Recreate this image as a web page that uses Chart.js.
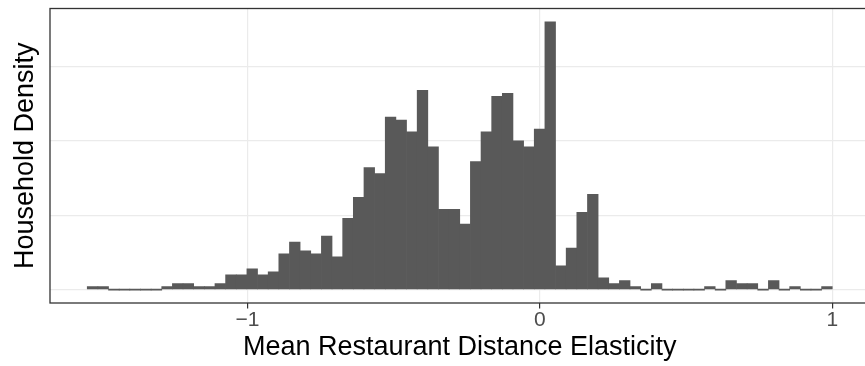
<!DOCTYPE html>
<html>
<head>
<meta charset="utf-8">
<title>Mean Restaurant Distance Elasticity</title>
<script src="https://cdn.jsdelivr.net/npm/chart.js@4"></script>
<style>
  html, body { margin: 0; padding: 0; background: #fff; overflow: hidden; }
  #myChart { display: block; }
</style>
</head>
<body>
<canvas id="myChart" width="872" height="366"></canvas>
<script>
// histogram bins: 70 equal-width bins starting at binStart
const binStart = -1.548;
const binWidth = 0.0364;
const householdsPerBin = [
  1, 1, 0, 0, 0, 0, 0, 1, 2, 2,
  1, 1, 2, 5, 5, 7, 5, 6, 12, 16,
  13, 12, 18, 11, 24, 31, 41, 39, 58, 57,
  53, 67, 48, 27, 27, 22, 43, 53, 65, 66,
  50, 48, 54, 90, 8, 14, 26, 32, 4, 2,
  3, 1, 0, 2, 0, 0, 0, 0, 1, 0,
  3, 2, 2, 0, 3, 0, 1, 0, 0, 1
];
const xTicks = [-1, 0, 1];
const yBreaks = [0, 25, 50, 75];

const titleFont = { family: '"Liberation Sans", Arial, sans-serif', size: 27 };
const tickFont = { family: '"Liberation Sans", Arial, sans-serif', size: 21, lineHeight: 1 };

// bars sit on bin centres
const points = householdsPerBin.map(function (n, i) {
  return { x: binStart + (i + 0.5) * binWidth, y: n };
});

// ggplot-style 5% padding around the data
const binEnd = binStart + householdsPerBin.length * binWidth;
const xPad = (binEnd - binStart) * 0.05;
const yMax = Math.max.apply(null, householdsPerBin);
const yPad = yMax * 0.05;

// theme_bw panel border, drawn over the bars
const panelBorder = {
  id: 'panelBorder',
  afterDraw: function (chart) {
    const a = chart.chartArea;
    const ctx = chart.ctx;
    ctx.save();
    ctx.strokeStyle = '#333333';
    ctx.lineWidth = 1.3;
    ctx.strokeRect(a.left, a.top, a.right - a.left, a.bottom - a.top);
    ctx.restore();
  }
};

function createChart() {
  var ctx = document.getElementById('myChart');
  return new Chart(ctx, {
    type: 'bar',
    data: {
      datasets: [{
        data: points,
        backgroundColor: '#595959',
        borderWidth: 0,
        barPercentage: 1,
        categoryPercentage: 1,
        minBarLength: 1
      }]
    },
    options: {
      responsive: false,
      animation: false,
      devicePixelRatio: 1,
      layout: { padding: { left: 0, right: 2.5, top: 8.5, bottom: 0 } },
      plugins: { legend: { display: false }, tooltip: { enabled: false } },
      scales: {
        x: {
          type: 'linear',
          offset: false,
          min: binStart - xPad,
          max: binEnd + xPad,
          afterBuildTicks: function (axis) {
            axis.ticks = xTicks.map(function (v) { return { value: v }; });
          },
          afterFit: function (axis) { axis.height = 63; },
          grid: {
            offset: false,
            color: '#EBEBEB',
            lineWidth: 1.2,
            drawTicks: true,
            tickLength: 5.5,
            tickColor: '#333333',
            tickWidth: 1.2
          },
          border: { display: false },
          ticks: {
            font: tickFont,
            color: '#4D4D4D',
            padding: 1,
            maxRotation: 0,
            callback: function (v) { return v < 0 ? '\u2212' + Math.abs(v) : String(v); }
          },
          title: {
            display: true,
            text: 'Mean Restaurant Distance Elasticity',
            font: titleFont,
            color: '#000000',
            padding: { top: 0, bottom: 2.5 }
          }
        },
        y: {
          min: -yPad,
          max: yMax + yPad,
          afterBuildTicks: function (axis) {
            axis.ticks = yBreaks.map(function (v) { return { value: v }; });
          },
          afterFit: function (axis) { axis.width = 50; },
          grid: { color: '#EBEBEB', lineWidth: 1.2, drawTicks: false },
          border: { display: false },
          ticks: { display: false },
          title: {
            display: true,
            text: 'Household Density',
            font: titleFont,
            color: '#000000',
            padding: { top: 9, bottom: 0 }
          }
        }
      }
    },
    plugins: [panelBorder]
  });
}

createChart();
</script>
</body>
</html>
